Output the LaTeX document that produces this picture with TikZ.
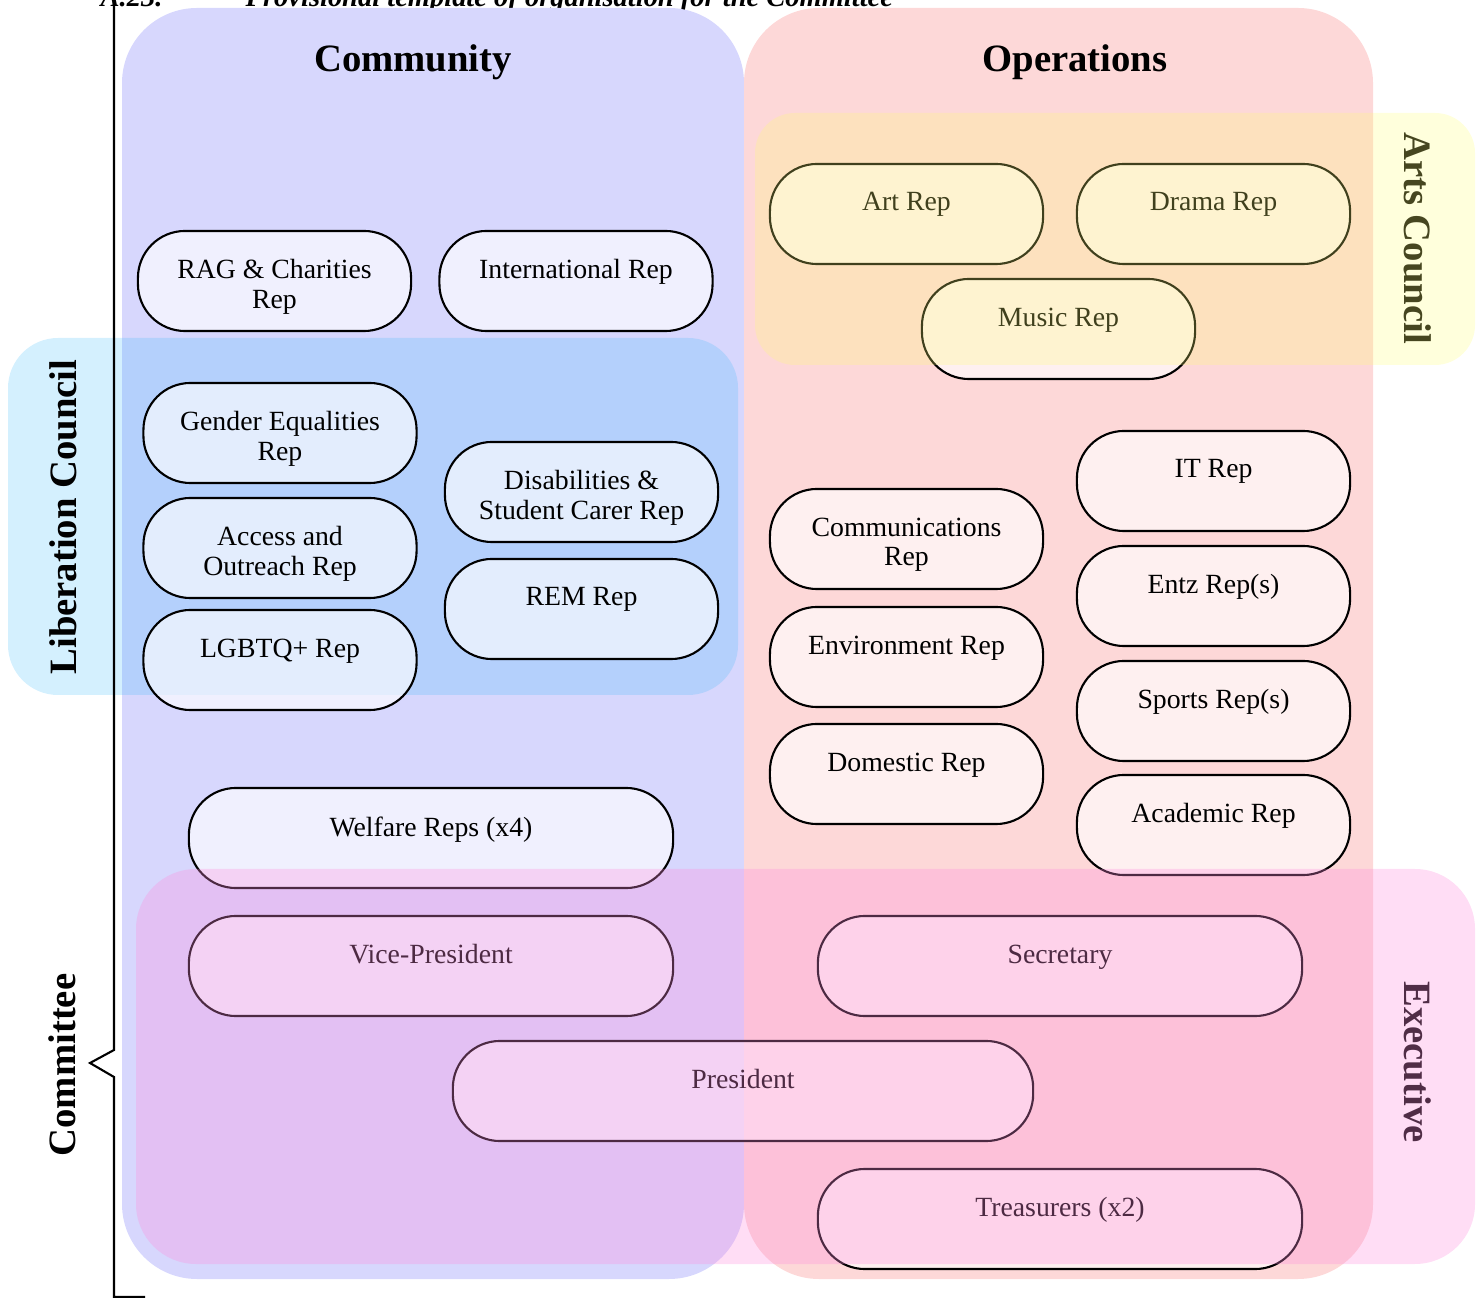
\documentclass[tikz,border=0pt]{standalone}
\usepackage{fontspec}
\setmainfont{Liberation Serif}
\definecolor{commbg}{RGB}{215,215,253}
\definecolor{opsbg}{RGB}{253,216,216}
\definecolor{libcol}{RGB}{40,180,250}
\definecolor{artscol}{RGB}{255,255,116}
\definecolor{execcol}{RGB}{255,142,222}
\definecolor{artstext}{RGB}{70,70,32}
\definecolor{exectext}{RGB}{80,45,70}
\tikzset{
    rep/.style={draw, line width=.6pt, rounded corners=.47cm, fill=white, fill opacity=.63,
        minimum height=1cm, inner sep=0pt},
    repname/.style={anchor=north, inner sep=0pt, align=center, font=\fontsize{7.9}{8.3}\selectfont},
    heading/.style={inner sep=0pt, font=\bfseries\fontsize{11}{13}\selectfont}
}
\begin{document}
\begin{tikzpicture}[x=.01cm,y=-.01cm]
\useasboundingbox (0,0) rectangle (1482,1298);
\clip (0,0) rectangle (1482,1298);
% title, cut off by the page
\node[anchor=base west, inner sep=0pt, font=\bfseries\itshape\fontsize{8.1}{9}\selectfont] (num) at (100,7) {A.23.};
\node[anchor=base west, inner sep=0pt, font=\bfseries\itshape\fontsize{8.1}{9}\selectfont] (title) at (245,7) {Provisional template of organisation for the Committee};

% the two columns
\fill[commbg, rounded corners=.75cm] (122,8) rectangle (744,1279);
\fill[opsbg, rounded corners=.75cm] (744,8) rectangle (1373,1279);
\node[heading, anchor=base] (commname) at (413,72) {Community};
\node[heading, anchor=base] (opsname) at (1075,72) {Operations};

% liberation council
\fill[libcol, fill opacity=.2, rounded corners=.5cm] (8,338) rectangle (738,695);
\node[heading, rotate=90] (libname) at (63,517) {Liberation Council};

% reps
\foreach \nm/\cx/\cy/\wid/\txt in {
    rag/274.5/281/2.73/{RAG \& Charities\\Rep},
    intl/576/281/2.73/{International Rep},
    gender/280/433/2.73/{Gender Equalities\\Rep},
    access/280/548/2.73/{Access and\\Outreach Rep},
    lgbt/280/660/2.73/{LGBTQ+ Rep},
    disab/581.5/492/2.73/{Disabilities \&\\Student Carer Rep},
    rem/581.5/609/2.73/{REM Rep},
    welfare/431/838/4.84/{Welfare Reps (x4)},
    vp/431/966/4.84/{Vice-President},
    sec/1060/966/4.84/{Secretary},
    pres/743/1091/5.8/{President},
    treas/1060/1219/4.84/{Treasurers (x2)},
    art/906.5/214/2.73/{Art Rep},
    drama/1213.5/214/2.73/{Drama Rep},
    music/1058.5/329/2.73/{Music Rep},
    it/1213.5/481/2.73/{IT Rep},
    comms/906.5/539/2.73/{Communications\\Rep},
    entz/1213.5/596/2.73/{Entz Rep(s)},
    env/906.5/657/2.73/{Environment Rep},
    sports/1213.5/711/2.73/{Sports Rep(s)},
    domestic/906.5/774/2.73/{Domestic Rep},
    academic/1213.5/825/2.73/{Academic Rep}}
{
    \node[rep, minimum width=\wid cm] (\nm) at (\cx,\cy) {};
    \node[repname] (\nm-t) at ([yshift=-.29cm]\nm.north) {\txt};
}

% arts council and executive lie over the reps
\fill[artscol, fill opacity=.25, rounded corners=.4cm] (755,113) rectangle (1475,365);
\node[heading, rotate=-90, text=artstext] (artsname) at (1418,238) {Arts Council};
\fill[execcol, fill opacity=.3, rounded corners=.6cm] (136,869) rectangle (1475,1264);
\node[heading, rotate=-90, text=exectext] (execname) at (1418,1062) {Executive};

% committee brace
\draw[line width=.6pt] (145,1297)--(114,1297)--(114,1077)--(90,1063)--(114,1050)--(114,-5);
\node[heading, rotate=90] (cttename) at (62,1065) {Committee};
\end{tikzpicture}
\end{document}
